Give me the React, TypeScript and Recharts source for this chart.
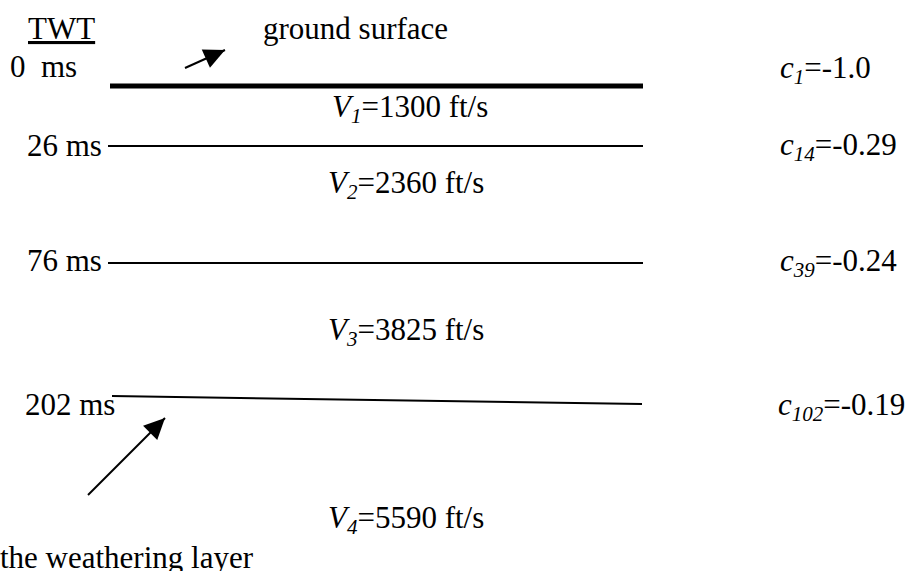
import React from "react";
import { ComposedChart, XAxis, YAxis, Line, Scatter } from "recharts";

// ---- data ----
const interfaceTwtLabels = ["0\u00a0\u00a0ms", "26 ms", "76 ms", "202 ms"];
const coefIndex = ["1", "14", "39", "102"];
const coefValue = ["-1.0", "-0.29", "-0.24", "-0.19"];
const layerIndex = ["1", "2", "3", "4"];
const layerVelocity = [1300, 2360, 3825, 5590];

// ---- schematic layout of the diagram (depth units, ground surface = 0) ----
const interfaceDepthLeft = [0, 60, 177, 310];
const interfaceDepthRight = [0, 60, 177, 318];
const interfaceStartX = [110, 108, 108, 112];
const interfaceEndX = [643, 643, 643, 642];
const twtLabelX = [10, 27, 27, 25];
const twtLabelDepth = [-9, 70, 185, 329];
const coefLabelX = [780, 780, 780, 778];
const coefLabelDepth = [-8, 69, 185, 329];
const velLabelX = [332, 328, 328, 328];
const velLabelDepth = [31, 107, 254, 442];

const arrowGround = [
  { x: 185, y: -18 },
  { x: 225, y: -36 },
];
const arrowWeathering = [
  { x: 88, y: 409 },
  { x: 165, y: 332 },
];

const FONT = "'Liberation Serif', 'Times New Roman', serif";
const FS = 31;
const SUB = 21;

const twtData = interfaceTwtLabels.map((t, i) => ({ x: twtLabelX[i], y: twtLabelDepth[i], text: t }));
const coefData = coefIndex.map((c, i) => ({ x: coefLabelX[i], y: coefLabelDepth[i], sub: c, val: coefValue[i] }));
const velData = layerVelocity.map((v, i) => ({ x: velLabelX[i], y: velLabelDepth[i], sub: layerIndex[i], val: v }));
const noteData = [
  { x: 28, y: -47, text: "TWT", underline: true, anchor: "start" },
  { x: 263, y: -47, text: "ground surface", underline: false, anchor: "start" },
  { x: 253, y: 482, text: "the weathering layer", underline: false, anchor: "end" },
];

const PlainText = (p: any) => {
  const { cx, cy, payload } = p;
  return (
    <text
      x={cx}
      y={cy}
      fontFamily={FONT}
      fontSize={FS}
      fill="#000"
      textAnchor={payload.anchor || "start"}
      textDecoration={payload.underline ? "underline" : undefined}
      style={{ whiteSpace: "pre" }}
    >
      {payload.text}
    </text>
  );
};

const CoefText = (p: any) => {
  const { cx, cy, payload } = p;
  return (
    <text x={cx} y={cy} fontFamily={FONT} fontSize={FS} fill="#000">
      <tspan fontStyle="italic">c</tspan>
      <tspan fontStyle="italic" fontSize={SUB} dy={6}>{payload.sub}</tspan>
      <tspan dy={-6}>{"=" + payload.val}</tspan>
    </text>
  );
};

const VelText = (p: any) => {
  const { cx, cy, payload } = p;
  return (
    <text x={cx} y={cy} fontFamily={FONT} fontSize={FS} fill="#000">
      <tspan fontStyle="italic">V</tspan>
      <tspan fontStyle="italic" fontSize={SUB} dy={6}>{payload.sub}</tspan>
      <tspan dy={-6}>{"=" + payload.val + " ft/s"}</tspan>
    </text>
  );
};

const makeArrowDot = (data: { x: number; y: number }[]) => (p: any) => {
  const { cx, cy, index } = p;
  if (index !== data.length - 1 || cx == null) return <g key={`d-${index}`} />;
  let ang: number;
  if (p.points && p.points.length > 1) {
    const a = p.points[0];
    const b = p.points[p.points.length - 1];
    ang = Math.atan2(b.y - a.y, b.x - a.x);
  } else {
    ang = Math.atan2(data[1].y - data[0].y, data[1].x - data[0].x);
  }
  const len = 21;
  const hw = 10;
  const bx = cx - len * Math.cos(ang);
  const by = cy - len * Math.sin(ang);
  const px = -Math.sin(ang) * hw;
  const py = Math.cos(ang) * hw;
  return (
    <path
      key={`d-${index}`}
      d={`M${cx},${cy}L${bx + px},${by + py}L${bx - px},${by - py}Z`}
      fill="#000"
      stroke="none"
    />
  );
};

export default function App() {
  return (
    <div style={{ position: "absolute", left: 0, top: 0, background: "#fff" }}>
      <ComposedChart width={910} height={571} margin={{ top: 0, right: 0, bottom: 0, left: 0 }}>
        <XAxis type="number" dataKey="x" domain={[0, 910]} hide />
        <YAxis type="number" dataKey="y" domain={[-86, 485]} reversed hide />
        {interfaceDepthLeft.map((d, i) => (
          <Line
            key={`if-${i}`}
            data={[
              { x: interfaceStartX[i], y: d },
              { x: interfaceEndX[i], y: interfaceDepthRight[i] },
            ]}
            dataKey="y"
            stroke="#000"
            strokeWidth={i === 0 ? 5 : 2}
            dot={false}
            activeDot={false}
            isAnimationActive={false}
            type="linear"
          />
        ))}
        <Line
          data={arrowGround}
          dataKey="y"
          stroke="#000"
          strokeWidth={2}
          dot={makeArrowDot(arrowGround)}
          activeDot={false}
          isAnimationActive={false}
          type="linear"
        />
        <Line
          data={arrowWeathering}
          dataKey="y"
          stroke="#000"
          strokeWidth={2}
          dot={makeArrowDot(arrowWeathering)}
          activeDot={false}
          isAnimationActive={false}
          type="linear"
        />
        <Scatter data={noteData} dataKey="y" shape={PlainText} isAnimationActive={false} />
        <Scatter data={twtData} dataKey="y" shape={PlainText} isAnimationActive={false} />
        <Scatter data={coefData} dataKey="y" shape={CoefText} isAnimationActive={false} />
        <Scatter data={velData} dataKey="y" shape={VelText} isAnimationActive={false} />
      </ComposedChart>
    </div>
  );
}
